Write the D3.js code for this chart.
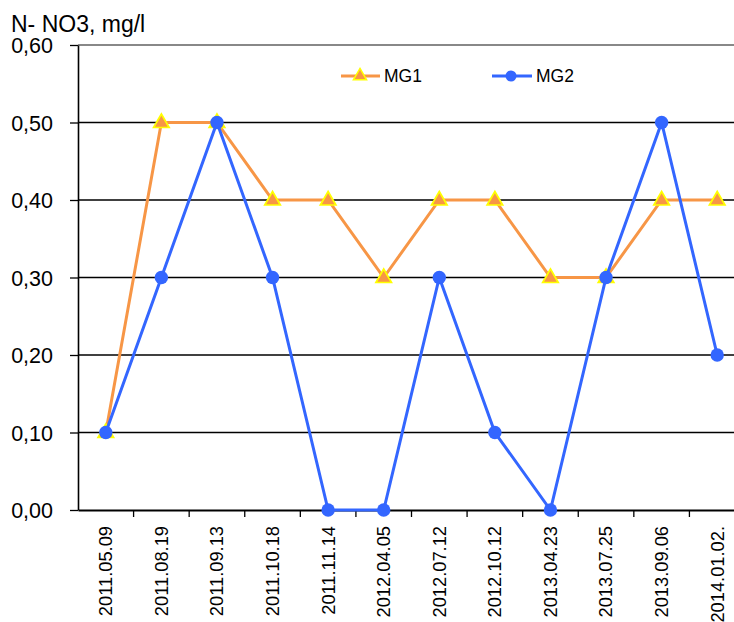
<!DOCTYPE html>
<html><head><meta charset="utf-8">
<script src="https://cdn.jsdelivr.net/npm/d3@7"></script>
<style>body{margin:0;background:#fff}svg{display:block}text{font-family:Arial,"Liberation Sans",sans-serif;fill:#000}</style>
</head><body><svg id="c" width="734" height="622"></svg>
<script>
const categories = ["2011.05.09","2011.08.19","2011.09.13","2011.10.18","2011.11.14","2012.04.05","2012.07.12","2012.10.12","2013.04.23","2013.07.25","2013.09.06","2014.01.02."];
const mg1 = [0.1,0.5,0.5,0.4,0.4,0.3,0.4,0.4,0.3,0.3,0.4,0.4];
const mg2 = [0.1,0.3,0.5,0.3,0.0,0.0,0.3,0.1,0.0,0.3,0.5,0.2];
const yTicks = [0,0.1,0.2,0.3,0.4,0.5,0.6];
const seriesNames = ["MG1","MG2"];
const title = "N- NO3, mg/l";

const svg = d3.select("#c");
const L = 78, R = 745, T = 45, B = 510;
const x = d3.scaleBand().domain(categories).range([L, R]);
const y = d3.scaleLinear().domain([0,0.6]).range([B, T]);
const fmt = d => d.toFixed(2).replace(".", ",");
const FF = "Arial, 'Liberation Sans', sans-serif";

// gridlines
svg.append("g").selectAll("line").data(yTicks.filter(d=>d>0)).join("line")
  .attr("x1", L).attr("x2", 734).attr("y1", d=>y(d)).attr("y2", d=>y(d))
  .attr("stroke", d => d===0.6 ? "#888" : "#000").attr("stroke-width", d => d===0.6 ? 2 : 1.3);

// y axis
const ya = svg.append("g").attr("transform",`translate(${L},0)`)
  .call(d3.axisLeft(y).tickValues(yTicks).tickFormat(fmt).tickSize(8).tickSizeOuter(0));
ya.select(".domain").attr("stroke","#000").attr("stroke-width",1.6);
ya.selectAll(".tick line").attr("stroke","#000").attr("stroke-width",1.3);
ya.selectAll(".tick text").attr("font-size",21.5).attr("x",-25).attr("dy","0.35em")
  .style("font-family",FF);

// x axis
const xa = svg.append("g").attr("transform",`translate(0,${B})`)
  .call(d3.axisBottom(x).tickSize(0).tickSizeOuter(0));
xa.select(".domain").attr("stroke","#000").attr("stroke-width",1.8);
xa.selectAll(".tick text").attr("font-size",18.3)
  .style("font-family",FF)
  .attr("transform","rotate(-90)").attr("text-anchor","end")
  .attr("x",-16).attr("y",0).attr("dy","0.35em");
// category separator ticks
svg.append("g").selectAll("line").data(categories.slice(1)).join("line")
  .attr("x1", d=>x(d)).attr("x2", d=>x(d)).attr("y1", B).attr("y2", B+7)
  .attr("stroke","#000").attr("stroke-width",1.3);

const cx = d => x(d) + x.bandwidth()/2;
const orange = "#F79646", blue = "#3366FF";
const tri = d3.symbol().type(d3.symbolTriangle).size(105);

// MG1
const line1 = d3.line().x((d,i)=>cx(categories[i])).y(d=>y(d));
svg.append("path").datum(mg1).attr("d", line1).attr("fill","none").attr("stroke",orange).attr("stroke-width",3);
svg.append("g").selectAll("path").data(mg1).join("path")
  .attr("d", tri).attr("transform",(d,i)=>`translate(${cx(categories[i])},${y(d)+0.5})`)
  .attr("fill",orange).attr("stroke","#FFFF00").attr("stroke-width",1.7);

// MG2
svg.append("path").datum(mg2).attr("d", line1).attr("fill","none").attr("stroke",blue).attr("stroke-width",3);
svg.append("g").selectAll("circle").data(mg2).join("circle")
  .attr("cx",(d,i)=>cx(categories[i])).attr("cy",d=>y(d)).attr("r",6.7).attr("fill",blue);

// legend
const lg = svg.append("g");
const ly = 76;
lg.append("line").attr("x1",341).attr("x2",380).attr("y1",ly).attr("y2",ly).attr("stroke",orange).attr("stroke-width",3);
lg.append("path").attr("d",d3.symbol().type(d3.symbolTriangle).size(75)).attr("transform",`translate(360,${ly})`)
  .attr("fill",orange).attr("stroke","#FFFF00").attr("stroke-width",1.5);
lg.append("text").attr("x",384).attr("y",ly).attr("dy","0.35em").attr("font-size",17.5).text(seriesNames[0]);
lg.append("line").attr("x1",492).attr("x2",532).attr("y1",ly).attr("y2",ly).attr("stroke",blue).attr("stroke-width",3);
lg.append("circle").attr("cx",511).attr("cy",ly).attr("r",5.5).attr("fill",blue);
lg.append("text").attr("x",536).attr("y",ly).attr("dy","0.35em").attr("font-size",17.5).text(seriesNames[1]);

// title
svg.append("text").attr("x",11).attr("y",32).attr("font-size",23).text(title);
</script></body></html>
